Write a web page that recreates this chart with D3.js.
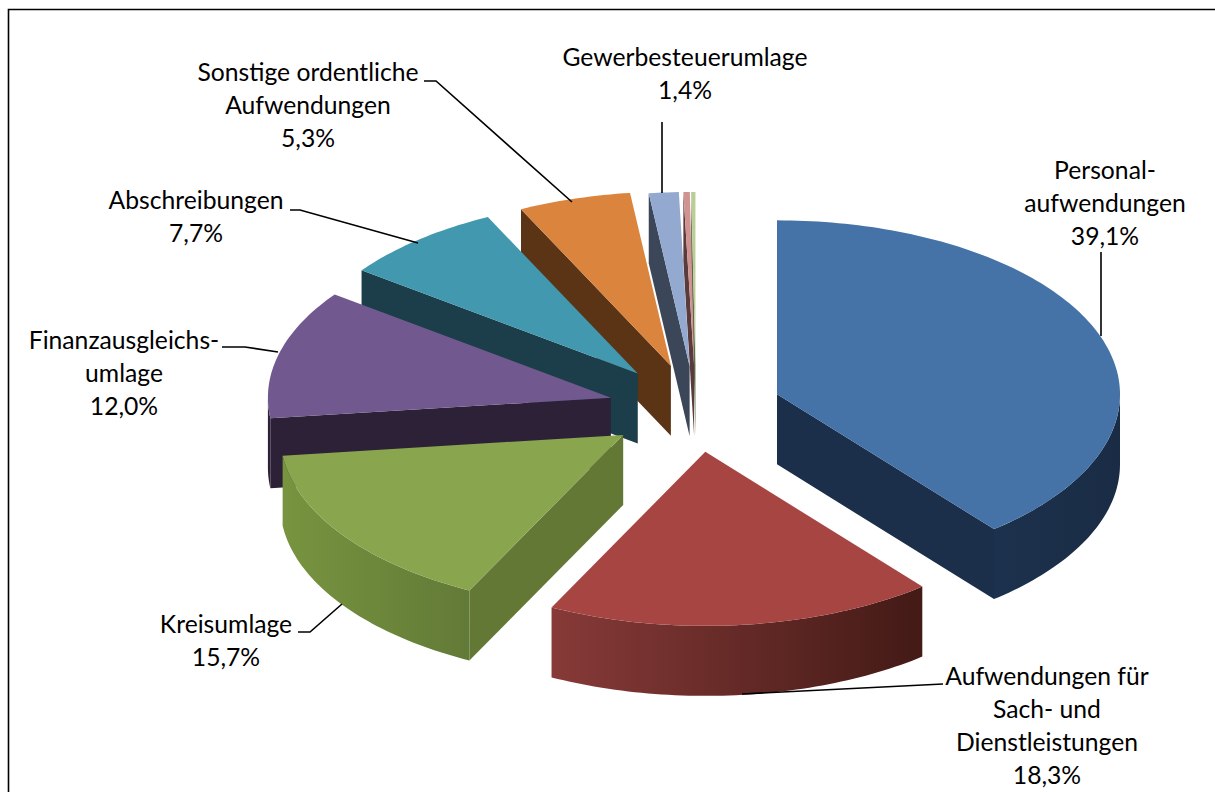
<!DOCTYPE html>
<html>
<head>
<meta charset="utf-8">
<script src="https://cdn.jsdelivr.net/npm/d3@7"></script>
<style>
    html, body { margin: 0; padding: 0; background: #fff; }
    svg { display: block; }
    text { font-family: Lato, "Open Sans", sans-serif; font-size: 24.7px; fill: #000; text-anchor: middle; }
</style>
</head>
<body>
<svg width="1215" height="792"></svg>
<script>
// values, clockwise from 12 o'clock
const categories = ["Personalaufwendungen", "Aufwendungen für Sach- und Dienstleistungen", "Kreisumlage",
    "Finanzausgleichsumlage", "Abschreibungen", "Sonstige ordentliche Aufwendungen", "Gewerbesteuerumlage",
    "Sonstige 1", "Sonstige 2"];
const shares = [39.1, 18.3, 15.7, 12.0, 7.7, 5.3, 1.4, 0.3, 0.2];

const topColors = ["#4572a7", "#a74543", "#89a54e", "#71588f", "#4198af", "#db843d", "#93a9cf", "#d19392", "#b9cd96"];
const sideColors = ["#1b2f4a", "#4a1b18", "#647836", "#2d2138", "#1b3e4a", "#5b3415", "#3c4659", "#5a3a3a", "#5f6b4c"];
const arcLeftColors = ["#1c314d", "#873a38", "#78943f", "#2d2138", "#1b3e4a", "#5b3415", "#3c4659", "#5a3a3a", "#5f6b4c"];
const arcRightColors = ["#1a2c45", "#431a16", "#627a37", "#2d2138", "#1b3e4a", "#5b3415", "#3c4659", "#5a3a3a", "#5f6b4c"];

const labelLines = [
    ["Personal-", "aufwendungen", "39,1%"],
    ["Aufwendungen für", "Sach- und", "Dienstleistungen", "18,3%"],
    ["Kreisumlage", "15,7%"],
    ["Finanzausgleichs-", "umlage", "12,0%"],
    ["Abschreibungen", "7,7%"],
    ["Sonstige ordentliche", "Aufwendungen", "5,3%"],
    ["Gewerbesteuerumlage", "1,4%"]
];

// layout of the labels: centre x, first baseline, leader line
const labelLayout = [
    {x: 1105, y: 179, leader: [[1101, 252], [1101, 336]]},
    {x: 1047, y: 685, leader: [[943, 684], [742, 694]]},
    {x: 226, y: 633, leader: [[298, 632], [310, 632], [342, 604]]},
    {x: 124, y: 349, leader: [[222, 347], [245, 347], [278, 352]]},
    {x: 196, y: 209, leader: [[290, 210], [300, 210], [418, 243]]},
    {x: 308, y: 81, leader: [[424, 81], [436, 81], [572, 202]]},
    {x: 685, y: 66, leader: [[662, 122], [662, 193]]}
];
const lineHeight = 33;

let svg = d3.select("svg");

// pie geometry, tilted: rx wide, ry tall, depth px thick
let cx = 696, cy = 409, rx = 343, ry = 174, depth = 70;
// how far each slice is pulled out of the pie
const explode = [86, 85, 89, 88, 91, 89, 85, 85, 85];

let pie = d3.pie().sort(null).value(function (d) { return d; });
let slices = pie(shares);

let line = d3.line();

function project(a, r, o) {
    return [o[0] + r * rx * Math.sin(a), o[1] - r * ry * Math.cos(a)];
}

function down(p) {
    return [p[0], p[1] + depth];
}

function arcPoints(a0, a1, o) {
    let n = Math.max(2, Math.ceil((a1 - a0) / 0.02));
    return d3.range(n + 1).map(function (i) {
        return project(a0 + (a1 - a0) * i / n, 1, o);
    });
}

let defs = svg.append("defs");

// frame, open at the right and the bottom
svg.append("path")
    .attr("d", line([[8.5, 792], [8.5, 9.5], [1215, 9.5]]))
    .attr("fill", "none")
    .attr("stroke", "#000")
    .attr("stroke-width", 1.6);

// back slices first
let order = d3.range(slices.length).sort(function (a, b) {
    let ma = Math.abs((slices[a].startAngle + slices[a].endAngle) / 2 - Math.PI);
    let mb = Math.abs((slices[b].startAngle + slices[b].endAngle) / 2 - Math.PI);
    return mb - ma;
});

order.forEach(function (i) {
    let s = slices[i];
    let mid = (s.startAngle + s.endAngle) / 2;
    let o = project(mid, explode[i] / rx, [cx, cy]);
    let g = svg.append("g").attr("class", "slice").attr("data-name", categories[i]);

    // radial walls that face the viewer
    if (s.startAngle > Math.PI) {
        let p = project(s.startAngle, 1, o);
        g.append("path")
            .attr("d", line([o, p, down(p), down(o)]) + "Z")
            .attr("fill", sideColors[i]);
    }
    if (s.endAngle < Math.PI) {
        let p = project(s.endAngle, 1, o);
        g.append("path")
            .attr("d", line([o, p, down(p), down(o)]) + "Z")
            .attr("fill", sideColors[i]);
    }

    // outer wall, only the front half of the ellipse
    let a0 = Math.max(s.startAngle, Math.PI / 2);
    let a1 = Math.min(s.endAngle, 3 * Math.PI / 2);
    if (a1 > a0) {
        let pts = arcPoints(a0, a1, o);
        let xs = d3.extent(pts, function (p) { return p[0]; });
        let grad = defs.append("linearGradient")
            .attr("id", "wall" + i)
            .attr("gradientUnits", "userSpaceOnUse")
            .attr("x1", xs[0]).attr("x2", xs[1])
            .attr("y1", 0).attr("y2", 0);
        grad.append("stop").attr("offset", 0).attr("stop-color", arcLeftColors[i]);
        grad.append("stop").attr("offset", 1).attr("stop-color", arcRightColors[i]);
        g.append("path")
            .attr("d", line(pts.concat(pts.slice().reverse().map(down))) + "Z")
            .attr("fill", "url(#wall" + i + ")");
    }

    // top face
    g.append("path")
        .attr("d", line([o].concat(arcPoints(s.startAngle, s.endAngle, o))) + "Z")
        .attr("fill", topColors[i]);
});

// leader lines and labels
labelLines.forEach(function (lines, i) {
    let l = labelLayout[i];
    svg.append("path")
        .attr("d", line(l.leader))
        .attr("fill", "none")
        .attr("stroke", "#000")
        .attr("stroke-width", 1.6);
    lines.forEach(function (t, k) {
        svg.append("text")
            .attr("x", l.x)
            .attr("y", l.y + k * lineHeight)
            .text(t);
    });
});
</script>
</body>
</html>
